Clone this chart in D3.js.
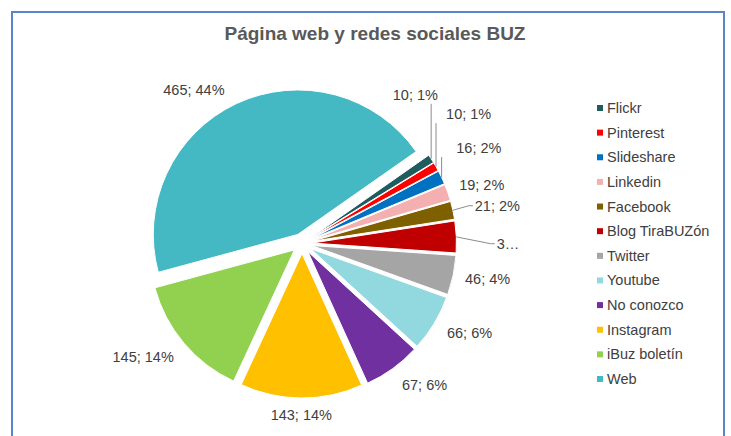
<!DOCTYPE html>
<html lang="es">
<head>
<meta charset="utf-8">
<title>Página web y redes sociales BUZ</title>
<script src="https://cdnjs.cloudflare.com/ajax/libs/d3/7.8.5/d3.min.js"></script>
<style>
  body { margin: 0; background: #fff; font-family: "Liberation Sans", Arial, sans-serif; }
  svg { display: block; }
  .label, .legend text { font-size: 14.5px; fill: #404040; }
  .title { font-size: 19px; font-weight: bold; fill: #595959; }
  .leader { fill: none; stroke: #8c8c8c; stroke-width: 1; }
</style>
</head>
<body>
<svg></svg>
<script>
// data (in Excel order, clockwise)
const categories = ["Flickr", "Pinterest", "Slideshare", "Linkedin", "Facebook", "Blog TiraBUZón",
                    "Twitter", "Youtube", "No conozco", "Instagram", "iBuz boletín", "Web"];
const values = [10, 10, 16, 19, 21, 37, 46, 66, 67, 143, 145, 465];
const colors = ["#1f5c5e", "#ff0000", "#0070c0", "#f4b0b0", "#7f6000", "#c00000",
                "#a5a5a5", "#92d8df", "#7030a0", "#ffc000", "#92d050", "#44b9c4"];
// Excel cut this label down to "3…"
const truncated = ["Blog TiraBUZón"];
const withLeader = ["Flickr", "Pinterest", "Slideshare", "Facebook", "Blog TiraBUZón"];

// layout
const width = 731, height = 436;
const cx = 302, cy = 243.5;
const radius = 144.5;
const explode = 10;
// best-fit label placement: [angle shift in degrees, distance from centre]
const labelNudge = [[-19.4, 187], [-8, 211], [-3, 201], [1.3, 189], [1.5, 199], [2.5, 206],
                    [-1, 189], [-3, 190], [-5, 187], [0, 172], [4.7, 195], [-10, 188]];

const rad = Math.PI / 180;
const total = d3.sum(values);
const data = categories.map((c, i) => ({name: c, value: values[i], color: colors[i], nudge: labelNudge[i]}));

const svg = d3.select("svg").attr("width", width).attr("height", height);

// chart frame (bottom edge is outside the picture)
svg.append("rect")
    .attr("x", 12).attr("y", 12)
    .attr("width", 712).attr("height", 500)
    .attr("fill", "none")
    .attr("stroke", "#5a86c8")
    .attr("stroke-width", 2);

svg.append("text")
    .attr("class", "title")
    .attr("x", 375).attr("y", 40)
    .attr("text-anchor", "middle")
    .text("Página web y redes sociales BUZ");

const pie = d3.pie()
    .sort(null)
    .value(d => d.value)
    .startAngle(55 * rad)
    .endAngle(415 * rad);

const arc = d3.arc().innerRadius(0).outerRadius(radius);

const arcs = pie(data);
const mid = d => (d.startAngle + d.endAngle) / 2;
const polar = (a, r) => [cx + Math.sin(a) * r, cy - Math.cos(a) * r];

const g = svg.append("g");

g.selectAll("path")
    .data(arcs)
    .enter()
    .append("path")
      .attr("d", arc)
      .attr("fill", d => d.data.color)
      .attr("stroke", "#fff")
      .attr("stroke-width", 1)
      .attr("transform", d => {
          const p = polar(mid(d), explode);
          return "translate(" + p[0] + "," + p[1] + ")";
      });

// data labels "value; pct%"
const labels = g.selectAll("text.label")
    .data(arcs)
    .enter()
    .append("text")
      .attr("class", "label")
      .attr("text-anchor", "middle")
      .attr("dominant-baseline", "central")
      .each(function(d) {
          const p = polar(mid(d) + d.data.nudge[0] * rad, d.data.nudge[1]);
          d3.select(this).attr("x", p[0]).attr("y", p[1]);
      })
      .text(d => {
          if (truncated.includes(d.data.name)) return String(d.value)[0] + "…";
          return d.value + "; " + Math.round(d.value / total * 100) + "%";
      });

// leader lines for the crowded small slices
labels.filter(d => withLeader.includes(d.data.name)).each(function(d) {
    const b = this.getBBox();
    const s = polar(mid(d), radius + explode);
    let pts;
    if (b.y + b.height < s[1] - 20 && Math.abs(s[0] - (b.x + b.width / 2)) < b.width) {
        // label sits above the slice: straight line up
        pts = [s, [s[0], b.y + b.height + 1]];
    } else {
        const ly = b.y + b.height / 2;
        pts = [s, [b.x - 6, ly], [b.x - 2, ly]];
    }
    g.append("path").attr("class", "leader").attr("d", d3.line()(pts));
});

// legend
const legendY = d3.scalePoint()
    .domain(categories)
    .range([108, 379]);

const legend = svg.append("g").attr("class", "legend")
    .selectAll("g")
    .data(data)
    .enter()
    .append("g")
      .attr("transform", d => "translate(597," + legendY(d.name) + ")");

legend.append("rect")
    .attr("x", 0).attr("y", -3)
    .attr("width", 6).attr("height", 6)
    .attr("fill", d => d.color);

legend.append("text")
    .attr("x", 10)
    .attr("y", 0)
    .attr("dominant-baseline", "central")
    .text(d => d.name);
</script>
</body>
</html>
